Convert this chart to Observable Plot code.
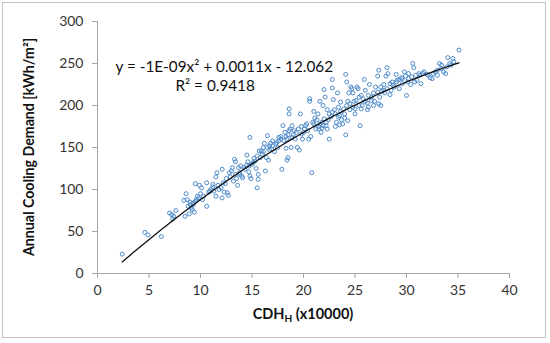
<!DOCTYPE html>
<html><head><meta charset="utf-8">
<script src="https://cdn.jsdelivr.net/npm/d3@7"></script>
<script src="https://cdn.jsdelivr.net/npm/@observablehq/plot@0.6"></script>
<style>
html,body{margin:0;padding:0;background:#fff;}
#wrap{position:relative;width:550px;height:343px;}
#border{position:absolute;left:2px;top:2px;width:544px;height:336px;border:1px solid #c4c4c4;box-sizing:border-box;pointer-events:none;}
</style></head>
<body><div id="wrap"><div id="border"></div></div>
<script>
// CDH_H (x10000)
const cdh = [2.4,4.6,4.9,6.2,7.0,7.3,7.4,7.6,7.2,
8.4,8.5,8.6,8.7,8.8,8.9,9.0,9.1,9.2,9.3,9.4,9.5,9.6,9.5,9.8,9.9,10.0,10.1,10.2,9.3,9.0,
10.6,10.6,10.8,11.0,11.2,11.3,11.5,11.5,11.6,11.8,12.0,12.1,12.1,12.3,12.4,12.5,12.6,12.7,12.8,13.0,
13.1,13.3,13.4,13.2,13.5,13.6,13.7,13.8,13.9,14.0,14.1,14.3,14.5,14.5,14.6,14.7,14.8,14.8,14.9,15.0,
15.2,15.3,15.4,15.5,15.6,15.6,15.7,15.9,16.0,16.1,16.2,16.3,16.4,16.5,16.6,16.7,16.8,16.9,17.0,17.2,
17.4,17.5,17.6,17.8,17.9,18.0,18.2,18.3,18.4,18.4,18.5,18.6,18.6,18.7,18.8,18.9,19.0,19.2,19.4,19.6,
19.7,19.8,19.9,20.0,20.2,20.4,20.6,20.6,20.8,20.9,21.0,21.1,21.2,21.4,21.5,21.6,21.7,21.8,21.9,22.0,
22.1,22.2,22.3,22.4,22.5,22.7,22.8,22.8,22.9,23.0,23.2,23.3,23.4,23.5,23.6,23.7,23.8,24.0,24.1,24.1,
24.2,24.3,24.4,24.5,24.6,24.7,24.8,24.9,25.0,25.2,25.3,25.4,25.5,25.6,25.8,25.9,26.0,26.2,26.3,26.4,
26.6,26.8,27.0,27.2,27.3,27.4,27.5,27.6,27.8,28.0,28.1,28.2,28.5,28.6,28.8,29.0,29.1,29.3,29.5,29.6,
29.8,30.0,30.1,30.2,30.4,30.6,30.7,30.8,31.0,31.2,31.4,31.6,32.0,32.3,32.5,32.8,33.0,33.2,33.4,33.6,
33.8,34.0,34.2,34.5,34.6,35.1,
16.5,16.7,17.0,17.3,17.6,17.8,18.1,18.3,18.5,18.6,18.9,19.1,19.3,19.5,19.8,20.1,20.3,20.5,20.7,21.0,
21.3,21.6,21.8,22.0,22.2,22.5,22.8,23.1,23.4,23.6,23.9,24.2,24.5,24.8,25.1,25.4,25.7,26.0,26.3,26.6,
26.9,27.2,27.5,27.8,28.1,28.4,28.7,29.0,29.3,29.6,29.9,30.2,30.5,30.9,31.3,31.7,32.1,32.6,33.0,33.4,
33.9,34.3,
9.7,10.3,10.9,11.2,11.7,12.2,12.9,13.4,13.8,14.2,14.7,15.1,15.5,15.8,16.1,
21.5,21.9,22.3,23.1,23.5,24.0,24.3,25.0,25.6,26.2,26.8,27.3,27.9,28.4];
// Annual cooling demand [kWh/m2]
const demand = [23,49,46,44,72,65,68,75,70,
87,68,95,88,80,71,85,78,76,82,73,86,88,107,90,105,95,102,88,84,82,
108,80,97,100,103,98,92,115,120,100,102,90,124,97,107,113,96,93,120,122,
126,136,133,110,113,105,126,118,128,116,114,124,129,141,133,121,116,162,113,130,
137,134,125,102,118,112,146,146,142,150,155,122,138,164,135,152,155,148,158,145,
156,150,162,163,124,176,168,149,160,135,138,196,190,172,150,176,165,160,150,147,
190,175,160,168,176,170,208,205,120,180,193,185,172,190,175,205,168,173,200,219,
210,176,195,183,160,187,231,221,207,195,180,215,198,188,204,183,178,190,237,165,
228,205,215,195,222,220,215,205,196,222,220,200,176,212,208,231,218,203,198,225,
206,215,222,235,242,210,200,217,225,235,245,238,218,228,222,237,230,220,233,232,
240,212,228,238,225,250,245,228,230,238,226,238,237,233,232,240,236,250,248,240,
238,257,250,256,252,266,
150,147,152,154,158,160,158,163,165,170,162,170,168,172,166,172,178,160,163,178,
183,178,180,184,180,190,192,190,186,193,196,200,202,198,206,210,200,205,212,210,
205,216,222,218,220,226,224,228,231,226,235,232,234,236,236,240,236,238,242,244,
246,248,
92,92,98,106,105,108,115,118,120,126,128,132,140,138,145,
172,176,172,175,177,185,182,190,196,195,200,202,215,213];
// Excel polynomial trendline coefficients (x in units of 10000): a*x^2 + b*x + c
const trendCoef = [-0.1, 11, -12.062];
const trendRange = [2.4, 35.1];
const xTicks = [0,5,10,15,20,25,30,35,40];
const yTicks = [0,50,100,150,200,250,300];
const eqText = ["y = -1E-09x\u00B2 + 0.0011x - 12.062", "R\u00B2 = 0.9418"];

const pts = cdh.map((v,i)=>({x:v, y:demand[i]}));
const trend = d3.range(0, 101).map(i => {
  const xv = trendRange[0] + (trendRange[1]-trendRange[0])*i/100;
  return {x: xv, y: trendCoef[0]*xv*xv + trendCoef[1]*xv + trendCoef[2]};
});

const font = "Lato, 'Open Sans', sans-serif";
const chart = Plot.plot({
  width: 550, height: 343,
  marginLeft: 97, marginRight: 41, marginTop: 21, marginBottom: 70,
  style: {fontFamily: font, fontSize: "14px", color: "#333", background: "transparent"},
  x: {domain: [0, 40]},
  y: {domain: [0, 300]},
  marks: [
    Plot.axisY({ticks: yTicks, tickSize: 5, tickPadding: 9, label: null, stroke: "#a6a6a6", fill: "#333", fontSize: 14}),
    Plot.axisX({ticks: xTicks, tickSize: 5, tickPadding: 7, label: null, stroke: "#a6a6a6", fill: "#333", fontSize: 14}),
    Plot.ruleX([0], {stroke: "#a6a6a6"}),
    Plot.ruleY([0], {stroke: "#a6a6a6"}),
    Plot.dot(pts, {x: "x", y: "y", r: 2, stroke: "#4f8bc9", strokeWidth: 1, fill: "none"}),
    Plot.line(trend, {x: "x", y: "y", stroke: "#111", strokeWidth: 1.3}),
    Plot.text([eqText[0]], {frameAnchor: "top-left", dx: 18, dy: 40, text: d => d, textAnchor: "start", fontSize: 15.3, fill: "#111"}),
    Plot.text([eqText[1]], {frameAnchor: "top-left", dx: 78, dy: 59, text: d => d, textAnchor: "start", fontSize: 15.3, fill: "#111"})
  ]
});
document.getElementById("wrap").appendChild(chart);
chart.style.position = "absolute"; chart.style.left = "0"; chart.style.top = "0";

const svg = d3.select(chart);
const xl = svg.append("text").attr("x", 303).attr("y", 319).attr("text-anchor", "middle")
  .attr("font-family", font).attr("font-weight", "bold").attr("font-size", 14.5).attr("fill", "#111");
xl.append("tspan").text("CDH");
xl.append("tspan").attr("font-size", 10).attr("dy", 3).text("H");
xl.append("tspan").attr("dy", -3).text(" (x10000)");
const yl = svg.append("text").attr("transform", "translate(34,147) rotate(-90)").attr("text-anchor", "middle")
  .attr("font-family", font).attr("font-weight", "bold").attr("font-size", 14.2).attr("fill", "#111")
  .text("Annual Cooling Demand [kWh/m\u00B2]");
</script>
</body></html>
